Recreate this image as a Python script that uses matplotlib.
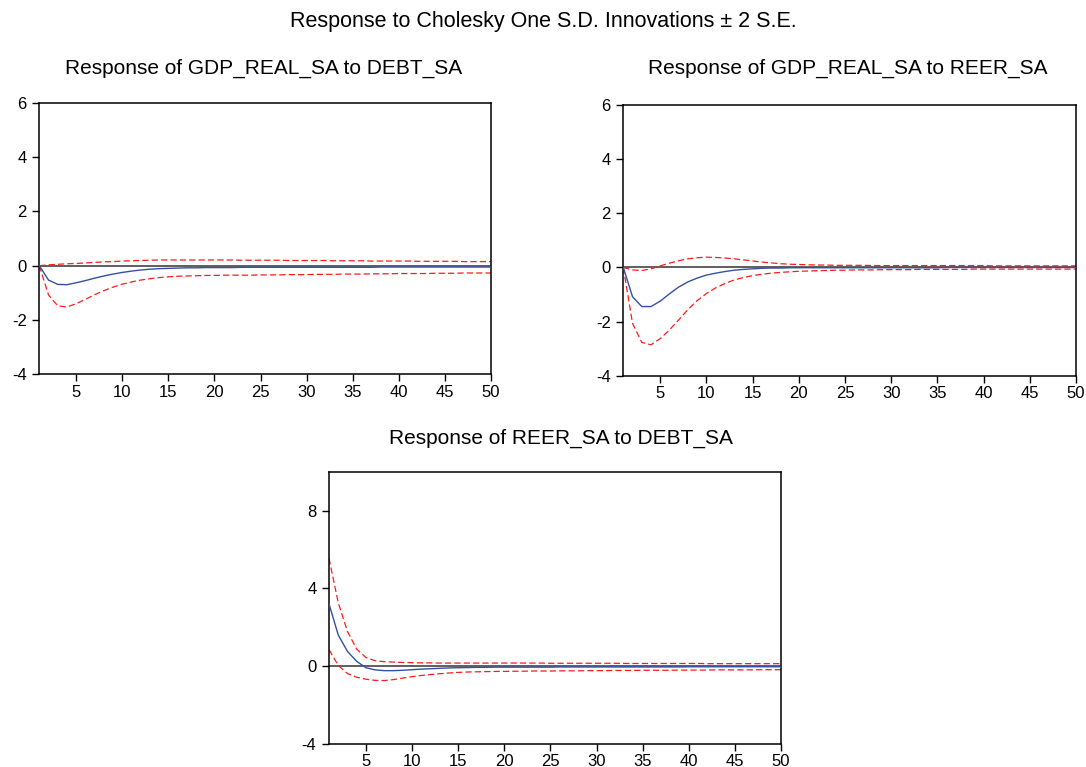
import matplotlib
matplotlib.use("Agg")
import matplotlib.pyplot as plt
import numpy as np

plt.rcParams['font.family'] = ['Liberation Sans', 'DejaVu Sans']
plt.rcParams['axes.unicode_minus'] = False

periods = list(range(1, 51))

# Panel 1: Response of GDP_REAL_SA to DEBT_SA
resp_gdp_debt = [0.00, -0.53, -0.69, -0.70, -0.63, -0.55, -0.46, -0.38, -0.31, -0.25,
                 -0.20, -0.16, -0.13, -0.11, -0.10, -0.09, -0.08, -0.08, -0.07, -0.07,
                 -0.07, -0.07, -0.06, -0.06, -0.06, -0.06, -0.06, -0.06, -0.06, -0.06,
                 -0.06, -0.06, -0.06, -0.06, -0.06, -0.06, -0.06, -0.05, -0.05, -0.05,
                 -0.05, -0.05, -0.05, -0.05, -0.05, -0.05, -0.05, -0.05, -0.05, -0.05]
lo_gdp_debt = [0.00, -1.08, -1.48, -1.52, -1.40, -1.24, -1.07, -0.92, -0.79, -0.68,
               -0.60, -0.53, -0.48, -0.44, -0.41, -0.39, -0.38, -0.37, -0.36, -0.36,
               -0.35, -0.35, -0.35, -0.35, -0.34, -0.34, -0.34, -0.33, -0.33, -0.33,
               -0.32, -0.32, -0.32, -0.31, -0.31, -0.31, -0.30, -0.30, -0.30, -0.29,
               -0.29, -0.29, -0.29, -0.28, -0.28, -0.28, -0.27, -0.27, -0.27, -0.27]
hi_gdp_debt = [0.00, 0.03, 0.05, 0.07, 0.08, 0.10, 0.12, 0.14, 0.15, 0.17,
               0.18, 0.19, 0.20, 0.21, 0.21, 0.21, 0.21, 0.21, 0.21, 0.21,
               0.21, 0.21, 0.20, 0.20, 0.20, 0.20, 0.20, 0.19, 0.19, 0.19,
               0.19, 0.19, 0.18, 0.18, 0.18, 0.18, 0.17, 0.17, 0.17, 0.17,
               0.17, 0.16, 0.16, 0.16, 0.16, 0.16, 0.15, 0.15, 0.15, 0.15]

# Panel 2: Response of GDP_REAL_SA to REER_SA
resp_gdp_reer = [0.00, -1.08, -1.44, -1.44, -1.24, -0.97, -0.72, -0.53, -0.39, -0.28,
                 -0.21, -0.15, -0.10, -0.07, -0.05, -0.03, -0.02, -0.02, -0.01, -0.01,
                 -0.01, -0.01, -0.01, -0.01, -0.01, -0.01, -0.01, -0.01, -0.01, -0.01,
                 -0.01, -0.01, -0.01, -0.01, -0.01, 0.00, 0.00, 0.00, 0.00, 0.00,
                 0.00, 0.00, 0.00, 0.00, 0.00, 0.00, 0.00, 0.00, 0.00, 0.00]
lo_gdp_reer = [0.00, -2.06, -2.76, -2.85, -2.62, -2.30, -1.93, -1.55, -1.22, -0.96,
               -0.75, -0.59, -0.46, -0.37, -0.30, -0.25, -0.21, -0.18, -0.16, -0.14,
               -0.13, -0.12, -0.11, -0.10, -0.10, -0.09, -0.09, -0.09, -0.08, -0.08,
               -0.08, -0.08, -0.07, -0.07, -0.07, -0.07, -0.07, -0.07, -0.06, -0.06,
               -0.06, -0.06, -0.06, -0.06, -0.06, -0.06, -0.06, -0.06, -0.06, -0.06]
hi_gdp_reer = [0.00, -0.09, -0.11, -0.05, 0.06, 0.16, 0.25, 0.32, 0.36, 0.38,
               0.37, 0.35, 0.32, 0.28, 0.24, 0.20, 0.17, 0.14, 0.12, 0.11,
               0.10, 0.09, 0.09, 0.08, 0.08, 0.08, 0.08, 0.07, 0.07, 0.07,
               0.07, 0.07, 0.07, 0.07, 0.07, 0.07, 0.07, 0.07, 0.07, 0.07,
               0.06, 0.06, 0.06, 0.06, 0.06, 0.06, 0.06, 0.06, 0.06, 0.06]

# Panel 3: Response of REER_SA to DEBT_SA
resp_reer_debt = [3.20, 1.60, 0.75, 0.24, -0.09, -0.20, -0.24, -0.24, -0.22, -0.19,
                  -0.16, -0.14, -0.12, -0.10, -0.09, -0.08, -0.07, -0.07, -0.06, -0.06,
                  -0.06, -0.06, -0.06, -0.06, -0.06, -0.05, -0.05, -0.05, -0.05, -0.05,
                  -0.05, -0.05, -0.05, -0.05, -0.05, -0.05, -0.05, -0.05, -0.05, -0.04,
                  -0.04, -0.04, -0.04, -0.04, -0.04, -0.04, -0.04, -0.04, -0.04, -0.04]
hi_reer_debt = [5.54, 3.26, 1.78, 0.87, 0.44, 0.27, 0.22, 0.20, 0.18, 0.17,
                0.16, 0.16, 0.15, 0.15, 0.15, 0.15, 0.15, 0.15, 0.15, 0.15,
                0.15, 0.15, 0.15, 0.15, 0.14, 0.14, 0.14, 0.14, 0.14, 0.14,
                0.14, 0.14, 0.13, 0.13, 0.13, 0.13, 0.13, 0.13, 0.13, 0.13,
                0.13, 0.12, 0.12, 0.12, 0.12, 0.12, 0.12, 0.12, 0.12, 0.12]
lo_reer_debt = [0.84, 0.03, -0.39, -0.58, -0.68, -0.74, -0.75, -0.70, -0.62, -0.55,
                -0.49, -0.44, -0.40, -0.36, -0.33, -0.31, -0.30, -0.29, -0.28, -0.28,
                -0.27, -0.27, -0.26, -0.26, -0.26, -0.25, -0.25, -0.25, -0.24, -0.24,
                -0.24, -0.23, -0.23, -0.23, -0.22, -0.22, -0.22, -0.22, -0.21, -0.21,
                -0.21, -0.21, -0.20, -0.20, -0.20, -0.20, -0.20, -0.19, -0.19, -0.19]

main_title = "Response to Cholesky One S.D. Innovations \u00b1 2 S.E."
panel_titles = ["Response of GDP_REAL_SA to DEBT_SA",
                "Response of GDP_REAL_SA to REER_SA",
                "Response of REER_SA to DEBT_SA"]
x_ticks = [5, 10, 15, 20, 25, 30, 35, 40, 45, 50]
y_ticks_top = [-4, -2, 0, 2, 4, 6]
y_ticks_bottom = [-4, 0, 4, 8]

W, H = 1086, 767
fig = plt.figure(figsize=(W / 100, H / 100), dpi=100)

def rect(l, r, t, b):
    return [l / W, 1 - b / H, (r - l) / W, (b - t) / H]

axes_rects = [rect(39.3, 491, 102.7, 374.3),
              rect(623.3, 1076, 104.7, 376),
              rect(329, 781, 471.7, 743.7)]
data = [(resp_gdp_debt, lo_gdp_debt, hi_gdp_debt, (-4, 6), y_ticks_top),
        (resp_gdp_reer, lo_gdp_reer, hi_gdp_reer, (-4, 6), y_ticks_top),
        (resp_reer_debt, lo_reer_debt, hi_reer_debt, (-4, 10), y_ticks_bottom)]
title_pos = [(264, 68), (848, 68), (561, 438)]

for rc, (c, lo, hi, ylim, yt), title, (tx, ty) in zip(axes_rects, data, panel_titles, title_pos):
    ax = fig.add_axes(rc)
    ax.axhline(0, color='#333333', lw=1.1, zorder=1)
    ax.plot(periods, hi, color='#ff1a1a', lw=0.9, ls=(0, (5, 2.5)), zorder=2)
    ax.plot(periods, lo, color='#ff1a1a', lw=0.9, ls=(0, (5, 2.5)), zorder=2)
    ax.plot(periods, c, color='#3350a8', lw=1.0, zorder=3)
    ax.set_xlim(1, 50)
    ax.set_ylim(*ylim)
    ax.set_xticks(x_ticks)
    ax.set_yticks(yt)
    ax.tick_params(direction='out', length=5, width=1.0, labelsize=12,
                   top=False, right=False)
    ax.tick_params(axis='x', pad=2.5)
    ax.tick_params(axis='y', pad=4)
    for s in ax.spines.values():
        s.set_linewidth(1.1)
        s.set_color('black')
    fig.text(tx / W, 1 - ty / H, title, ha='center', va='center', fontsize=15)

fig.text(543 / W, 1 - 22 / H, main_title, ha='center', va='center', fontsize=15.5)

fig.savefig("out.png", dpi=100)
